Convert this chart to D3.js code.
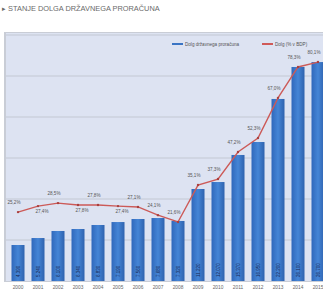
<!DOCTYPE html>
<html>
<head>
<meta charset="utf-8">
<script src="https://cdn.jsdelivr.net/npm/d3@7"></script>
<style>
body { margin: 0; background: #fff; }
svg { display: block; font-family: "Liberation Sans", Arial, sans-serif; }
</style>
</head>
<body>
<svg id="chart" width="323" height="292"></svg>
<script>
// data
let years = ["2000","2001","2002","2003","2004","2005","2006","2007","2008","2009","2010","2011","2012","2013","2014","2015"];
let debt = [4390, 5240, 6100, 6340, 6830, 7190, 7560, 7680, 7320, 11220, 12070, 15370, 16950, 22200, 26100, 26700]; // mio EUR
let debtPct = [25.2, 27.4, 28.5, 27.8, 27.8, 27.4, 27.1, 24.1, 21.6, 35.1, 37.3, 47.2, 52.3, 67.0, 78.3, 80.1];
let yTicks = [5000, 10000, 15000, 20000, 25000, 30000];
let legendNames = ["Dolg državnega proračuna", "Dolg (% v BDP)"];

let svg = d3.select("#chart");

svg.append("text")
    .attr("x", 2).attr("y", 11)
    .attr("font-size", 7.4).attr("fill", "#6a6a6a")
    .text("▸ STANJE DOLGA DRŽAVNEGA PRORAČUNA");

// panel background
svg.append("rect")
    .attr("x", 4).attr("y", 32).attr("width", 330).attr("height", 250)
    .attr("fill", "#c9cdd6");
svg.append("rect")
    .attr("x", 6).attr("y", 33).attr("width", 330).attr("height", 248)
    .attr("fill", "#dde3f2");

let x = d3.scaleBand()
    .domain(years)
    .range([8, 328])
    .paddingInner(0.35)
    .paddingOuter(0.175);

let y = d3.scaleLinear().domain([0, 30000]).range([281, 35]);
let yp = d3.scaleLinear().domain([0, 90]).range([281, 35]);

// gridlines
svg.append("g")
    .selectAll("line")
    .data(yTicks)
    .enter().append("line")
    .attr("x1", 6).attr("x2", 323)
    .attr("y1", d => y(d)).attr("y2", d => y(d))
    .attr("stroke", "#c3c8d3").attr("stroke-width", 1);

let grad = svg.append("defs").append("linearGradient")
    .attr("id", "bargrad").attr("x1", 0).attr("x2", 1).attr("y1", 0).attr("y2", 0);
grad.append("stop").attr("offset", "0%").attr("stop-color", "#3068bb");
grad.append("stop").attr("offset", "50%").attr("stop-color", "#4585d6");
grad.append("stop").attr("offset", "100%").attr("stop-color", "#2e62ae");

svg.append("g")
    .selectAll("rect")
    .data(debt)
    .enter().append("rect")
    .attr("x", (d, i) => x(years[i]))
    .attr("y", d => y(d))
    .attr("width", x.bandwidth())
    .attr("height", d => y(0) - y(d))
    .attr("fill", "url(#bargrad)");

// rotated values inside bars
svg.append("g")
    .selectAll("text")
    .data(debt)
    .enter().append("text")
    .attr("transform", (d, i) => "translate(" + (x(years[i]) + x.bandwidth() / 2 + 1.5) + ",277) rotate(-90)")
    .attr("font-size", 4.5).attr("fill", "#1a2a55")
    .text(d => d3.format(",")(d).replace(/,/g, "."));

// year labels
svg.append("g")
    .selectAll("text")
    .data(years)
    .enter().append("text")
    .attr("x", d => x(d) + x.bandwidth() / 2)
    .attr("y", 289)
    .attr("text-anchor", "middle")
    .attr("font-size", 4.8).attr("fill", "#666")
    .text(d => d);

// debt as % of GDP
let cx = (d, i) => x(years[i]) + x.bandwidth() / 2;
let line = d3.line().x(cx).y(d => yp(d));

svg.append("path")
    .datum(debtPct)
    .attr("d", line)
    .attr("fill", "none")
    .attr("stroke", "#cc5a58").attr("stroke-width", 1.4);

svg.append("g")
    .selectAll("circle")
    .data(debtPct)
    .enter().append("circle")
    .attr("cx", cx).attr("cy", d => yp(d))
    .attr("r", 1.2).attr("fill", "#a8403e");

let below = [1, 3, 5];
svg.append("g")
    .selectAll("text")
    .data(debtPct)
    .enter().append("text")
    .attr("x", (d, i) => cx(d, i) + (below.includes(i) ? 4 : -4))
    .attr("y", (d, i) => yp(d) + (below.includes(i) ? 7 : -8))
    .attr("text-anchor", "middle")
    .attr("font-size", 4.6).attr("fill", "#555")
    .text(d => d3.format(".1f")(d).replace(".", ",") + "%");

// legend
let legend = svg.append("g");
let lx = [172, 262];
let lcol = ["#3a74c4", "#d05a58"];
legendNames.forEach(function(name, i) {
    legend.append("line")
        .attr("x1", lx[i]).attr("x2", lx[i] + 11)
        .attr("y1", 44).attr("y2", 44)
        .attr("stroke", lcol[i]).attr("stroke-width", 2);
    legend.append("text")
        .attr("x", lx[i] + 13).attr("y", 45.5)
        .attr("font-size", 4.6).attr("fill", "#555")
        .text(name);
});
</script>
</body>
</html>
